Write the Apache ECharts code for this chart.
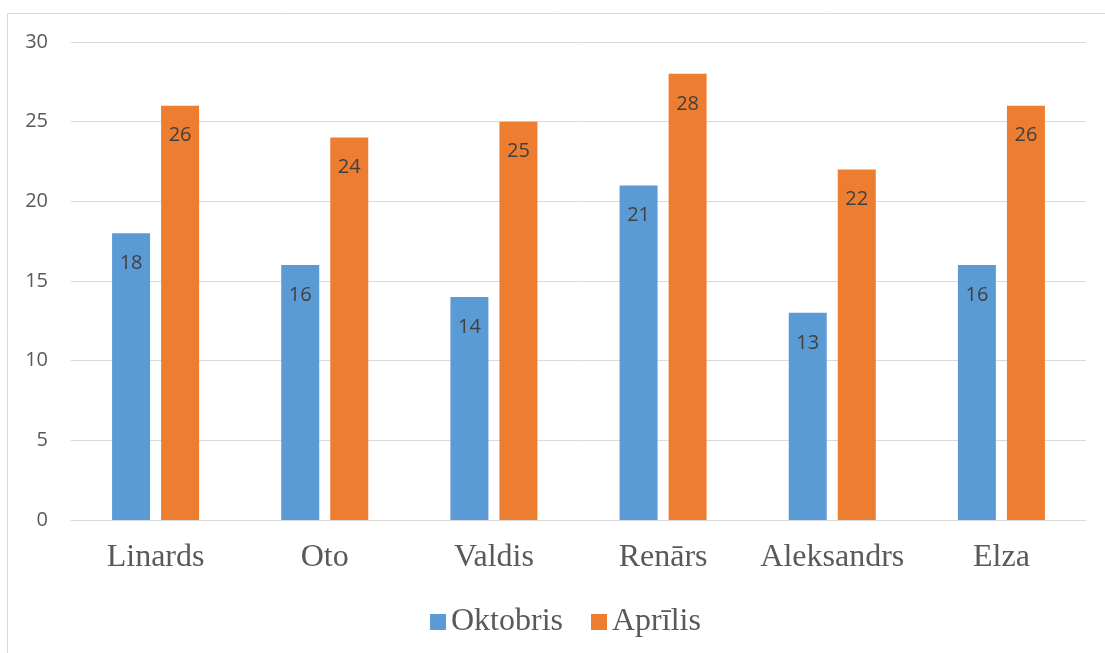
<!DOCTYPE html>
<html>
<head>
<meta charset="utf-8">
<script src="https://cdn.jsdelivr.net/npm/echarts@6/dist/echarts.min.js"></script>
<style>
  html, body { margin: 0; padding: 0; background: #fff; }
  #chart { width: 1105px; height: 653px; }
</style>
</head>
<body>
<div id="chart"></div>
<script>
const categories = ['Linards', 'Oto', 'Valdis', 'Renārs', 'Aleksandrs', 'Elza']
const oktobris = [18, 16, 14, 21, 13, 16]
const aprilis = [26, 24, 25, 28, 22, 26]

const chart = echarts.init(document.getElementById('chart'))

const labelStyle = {
  show: true,
  position: 'insideTop',
  distance: 20,
  fontFamily: 'Open Sans, Noto Sans, sans-serif',
  fontSize: 20,
  color: '#404040'
}

const option = {
  animation: false,
  graphic: [{
    type: 'rect',
    shape: { x: 7.5, y: 13.5, width: 1120, height: 660 },
    style: { fill: 'none', stroke: '#d9d9d9', lineWidth: 1 },
    silent: true
  }],
  grid: { left: 71, right: 19, top: 42, bottom: 133 },
  legend: {
    data: ['Oktobris', 'Aprīlis'],
    top: 601,
    left: 425,
    itemWidth: 16,
    itemHeight: 16,
    itemGap: 28,
    icon: 'rect',
    textStyle: {
      fontFamily: 'Liberation Serif, serif',
      fontSize: 32,
      color: '#595959'
    }
  },
  xAxis: {
    type: 'category',
    data: categories,
    axisLine: { lineStyle: { color: '#d9d9d9', width: 1 } },
    axisTick: { show: false },
    axisLabel: {
      interval: 0,
      margin: 22,
      fontFamily: 'Liberation Serif, serif',
      fontSize: 32,
      color: '#595959'
    }
  },
  yAxis: {
    type: 'value',
    min: 0,
    max: 30,
    interval: 5,
    axisLine: { show: false },
    axisTick: { show: false },
    splitLine: { lineStyle: { color: '#d9d9d9', width: 1 } },
    axisLabel: {
      margin: 23,
      fontFamily: 'Open Sans, Noto Sans, sans-serif',
      fontSize: 20,
      color: '#595959'
    }
  },
  series: [
    {
      name: 'Oktobris',
      type: 'bar',
      data: oktobris,
      barWidth: 38,
      barGap: '29%',
      itemStyle: { color: '#5b9bd5' },
      label: labelStyle
    },
    {
      name: 'Aprīlis',
      type: 'bar',
      data: aprilis,
      barWidth: 38,
      itemStyle: { color: '#ed7d31' },
      label: labelStyle
    }
  ]
}

chart.setOption(option)
</script>
</body>
</html>
